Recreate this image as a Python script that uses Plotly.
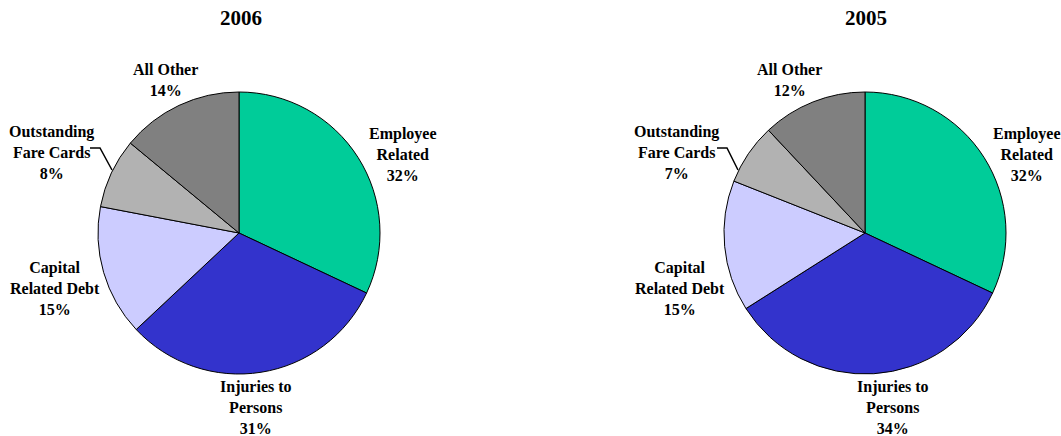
import plotly.graph_objects as go

categories = ["Employee Related", "Injuries to Persons", "Capital Related Debt",
              "Outstanding Fare Cards", "All Other"]
label_text = ["Employee<br>Related", "Injuries to<br>Persons", "Capital<br>Related Debt",
              "Outstanding<br>Fare Cards", "All Other"]
values_2006 = [32, 31, 15, 8, 14]
values_2005 = [32, 34, 15, 7, 12]
years = ["2006", "2005"]
colors = ["#00CC99", "#3333CC", "#CCCCFF", "#B2B2B2", "#808080"]

W, H = 1061, 436
FONT = "'Liberation Serif', 'Times New Roman', Times, serif"

fig = go.Figure()

domains = [
    dict(x=[98 / W, 380 / W], y=[(H - 374) / H, (H - 92) / H]),
    dict(x=[724 / W, 1006 / W], y=[(H - 374) / H, (H - 92) / H]),
]

for vals, dom in zip([values_2006, values_2005], domains):
    fig.add_trace(go.Pie(
        labels=categories, values=vals, sort=False, direction="clockwise",
        rotation=0, domain=dom, textinfo="none", hoverinfo="label+percent",
        marker=dict(colors=colors, line=dict(color="black", width=1)),
        showlegend=False,
    ))

# label block centres (pixels)
label_pos = [
    [(403, 155), (256, 407), (55, 288), (51, 152), (165, 80)],
    [(1027, 155), (893, 407), (680, 288), (676, 152), (789, 80)],
]
title_pos = [(241, 18), (866, 18)]

annotations = []
for vals, pos, yr, tp in zip([values_2006, values_2005], label_pos, years, title_pos):
    total = sum(vals)
    for txt, v, (px, py) in zip(label_text, vals, pos):
        lines = (txt + f"<br>{round(100 * v / total)}%").split("<br>")
        annotations.append(dict(
            x=px / W, y=1 - py / H, xref="paper", yref="paper",
            text="<br>".join(f"<b>{ln}</b>" for ln in lines), showarrow=False,
            xanchor="center", yanchor="middle", align="center",
            font=dict(family=FONT, size=16, color="black"),
        ))
    annotations.append(dict(
        x=tp[0] / W, y=1 - tp[1] / H, xref="paper", yref="paper", text=f"<b>{yr}</b>",
        showarrow=False, xanchor="center", yanchor="middle",
        font=dict(family=FONT, size=21, color="black"),
    ))

# leader lines for Outstanding Fare Cards
shapes = []
for pts in [[(90, 148), (100, 148), (112, 170)], [(717, 148), (727, 148), (738, 170)]]:
    path = "M " + " L ".join(f"{x / W},{1 - y / H}" for x, y in pts)
    shapes.append(dict(type="path", xref="paper", yref="paper", path=path,
                       line=dict(color="black", width=1.5)))

fig.update_layout(
    width=W, height=H, margin=dict(l=0, r=0, t=0, b=0),
    paper_bgcolor="white", plot_bgcolor="white",
    annotations=annotations, shapes=shapes,
)

fig.write_html("out.html")
